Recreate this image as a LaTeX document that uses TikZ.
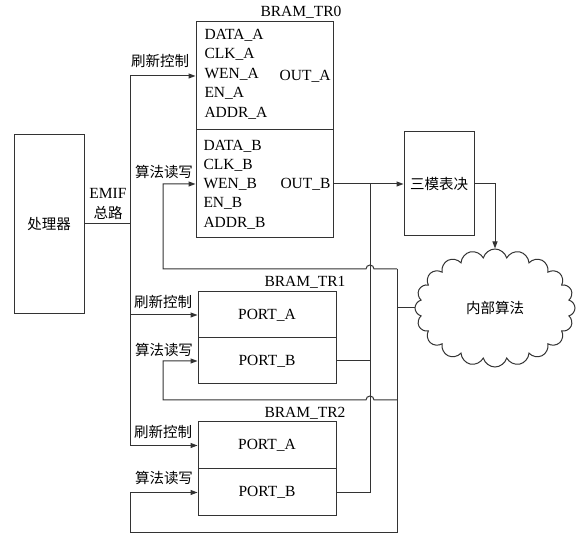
\documentclass[tikz,border=0pt]{standalone}
\usepackage{fontspec}
\setmainfont{Liberation Serif}
\newfontfamily\cjk{Noto Sans CJK SC}
\usetikzlibrary{arrows.meta,shapes.symbols}

\begin{document}
\begin{tikzpicture}[x=1pt,y=-1pt,line width=1pt,draw=black!80,
    box/.style={draw,rectangle,inner sep=0pt},
    en/.style={font=\fontsize{15.5}{17}\selectfont,inner sep=0pt},
    zh/.style={font=\fontsize{14.5}{17}\cjk,inner sep=0pt},
    arr/.style={-{Triangle[length=7pt,width=5pt]}}]
  \useasboundingbox (0,0) rectangle (582,534);

  \node[box,zh,minimum width=70pt,minimum height=179pt] (proc) at (49,224) {处理器};

  % BRAM_TR0
  \node[box,minimum width=137pt,minimum height=108pt] (tr0a) at (264.5,76) {};
  \node[box,minimum width=137pt,minimum height=108pt] (tr0b) at (264.5,184) {};
  \node[en] (tr0) at (301,12) {BRAM\_TR0};
  \foreach \t [count=\i] in {DATA,CLK,WEN,EN,ADDR} {
    \node[en,anchor=west] (pa\i) at (204,{15.5+19.5*\i}) {\t\_A};
    \node[en,anchor=west] (pb\i) at (203,{126.7+19.3*\i}) {\t\_B};
  }
  \node[en,anchor=east] (outa) at (331,76) {OUT\_A};
  \node[en,anchor=east] (outb) at (331,184) {OUT\_B};

  % BRAM_TR1, BRAM_TR2
  \node[box,en,minimum width=138pt,minimum height=46pt] (tr1a) at (267,315) {PORT\_A};
  \node[box,en,minimum width=138pt,minimum height=46pt] (tr1b) at (267,361) {PORT\_B};
  \node[en] (tr1) at (305,282) {BRAM\_TR1};
  \node[box,en,minimum width=138pt,minimum height=47pt] (tr2a) at (267,445.5) {PORT\_A};
  \node[box,en,minimum width=138pt,minimum height=47pt] (tr2b) at (267,492.5) {PORT\_B};
  \node[en] (tr2) at (305,413) {BRAM\_TR2};

  \node[box,zh,minimum width=70pt,minimum height=104pt] (vote) at (439,184) {三模表决};
  \node[cloud,draw,zh,cloud puffs=20,aspect=1.4,minimum width=160pt,minimum height=118pt] (alg) at (495,308) {内部算法};

  % labels
  \node[en] (emif) at (108,193) {EMIF};
  \node[zh] (zl) at (108,213) {总路};
  \node[zh] (r0) at (160,61) {刷新控制};
  \node[zh] (s0) at (164,172) {算法读写};
  \node[zh] (r1) at (163,302) {刷新控制};
  \node[zh] (s1) at (164,350) {算法读写};
  \node[zh] (r2) at (163,432) {刷新控制};
  \node[zh] (s2) at (164,478) {算法读写};

  % EMIF bus
  \coordinate (bus) at (130,224);
  \coordinate (bustop) at (130,76);
  \coordinate (busbot) at (130,445.5);
  \draw (proc.east) -- (bus);
  \draw (bustop) -- (busbot);
  \draw[arr] (bustop) -- (tr0a.west);
  \draw[arr] (bustop |- tr1a.west) -- (tr1a.west);
  \draw[arr] (busbot) -- (tr2a.west);

  % outputs
  \coordinate (join) at (370,184);
  \draw[arr] (tr0b.east) -- (vote.west);
  \draw (join) |- (tr2b.east);
  \draw (tr1b.east) -- (join |- tr1b.east);
  \draw[arr] (vote.east) -| (alg.north);

  % feedback
  \coordinate (fb) at (397,308);
  \coordinate (fbtop) at (397,269);
  \coordinate (fbmid) at (397,400);
  \coordinate (fbbot) at (397,533);
  \draw (alg.west) -- (fb);
  \draw (fbtop) -- (fbbot);
  \draw[arr] (fbtop) -- (374,269) arc[start angle=0,end angle=-180,radius=4] -- (163,269) |- (tr0b.west);
  \draw[arr] (fbmid) -- (374,400) arc[start angle=0,end angle=-180,radius=4] -- (163,400) |- (tr1b.west);
  \draw[arr] (fbbot) -- (130,533) |- (tr2b.west);
\end{tikzpicture}
\end{document}
